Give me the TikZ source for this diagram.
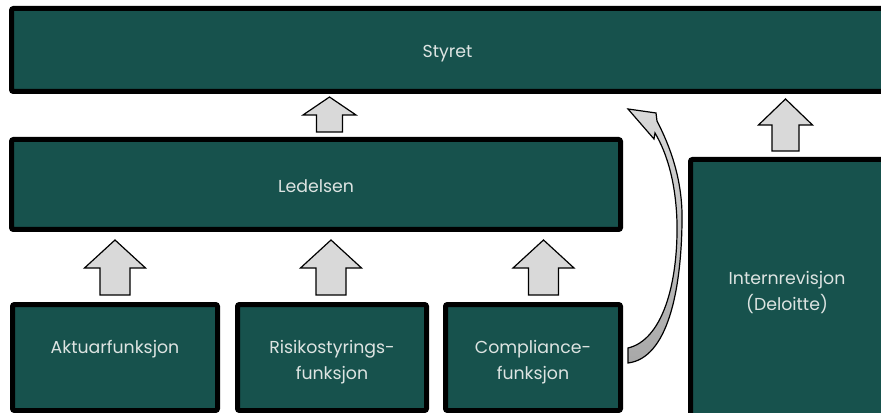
\documentclass[tikz,border=0pt]{standalone}
\usepackage{fontspec}
\setmainfont{Poppins}
\usetikzlibrary{calc}
\definecolor{boksgronn}{HTML}{17524D}
\definecolor{tekstgraa}{HTML}{DDE4E2}
\definecolor{pilgraa}{HTML}{D9D9D9}
\definecolor{pilmork}{HTML}{A8A8A8}
\def\blokkpil(#1,#2,#3,#4)(#5,#6){\draw[pil] (#1,#2) -- (#1+#5,#3) -- (#1+#6,#3) -- (#1+#6,#4) -- (#1-#6,#4) -- (#1-#6,#3) -- (#1-#5,#3) -- cycle;}
\tikzset{
  boks/.style={draw=black, line width=3.75pt, fill=boksgronn, rounded corners=1.5pt, inner sep=0pt},
  tekst/.style={text=tekstgraa, font=\fontsize{13}{19.5}\selectfont, align=center, inner sep=0pt},
  pil/.style={draw=black, line width=0.9pt, fill=pilgraa, line join=miter}
}
\begin{document}
\begin{tikzpicture}[x=0.75pt, y=-0.75pt]
			%%%%% START %%%%%
			\useasboundingbox (0,0) rectangle (881,413);
			\clip (0,0) rectangle (881,413);
			
			\node[boks, minimum width=654pt, minimum height=62.25pt] (styret) at (447.5, 50) {};
			\node[tekst, yshift=-2.75pt] (styrettekst) at (styret.center) {Styret};
			
			\node[boks, minimum width=456.75pt, minimum height=67.5pt] (ledelsen) at (316, 184.5) {};
			\node[tekst, yshift=-1.5pt] (ledelsentekst) at (ledelsen.center) {Ledelsen};
			
			\node[boks, minimum width=153.75pt, minimum height=79.5pt] (aktuar) at (115, 357.5) {};
			\node[boks, minimum width=141.75pt, minimum height=79.5pt] (risiko) at (332, 357.5) {};
			\node[boks, minimum width=131.25pt, minimum height=79.5pt] (compliance) at (533, 357.5) {};
			\node[tekst, anchor=north] (aktuartekst) at (115, 340) {Aktuarfunksjon};
			\node[tekst, anchor=north] (risikotekst) at (332, 340) {Risikostyrings-\\funksjon};
			\node[tekst, anchor=north] (compliancetekst) at (533, 340) {Compliance-\\funksjon};
			
			\node[boks, minimum width=144.75pt, minimum height=193.5pt] (intern) at (787, 288.5) {};
			\node[tekst, yshift=-3pt] (interntekst) at (intern.center) {Internrevisjon\\(Deloitte)};
			
			\blokkpil(329.5,97,115,132)(26.5,13)
			\blokkpil(785.5,99,125,151)(27,13.5)
			\blokkpil(115,240,268,295)(30.5,15)
			\blokkpil(331,240,268,295)(30.5,15)
			\blokkpil(543.5,240,268,295)(30.5,15)
			
			\draw[pil, top color=pilgraa, bottom color=pilmork] (628,109) -- (656,113) -- (657,121)
				.. controls (673,152) and (683,185) .. (682,223)
				.. controls (681,290) and (668,358) .. (628,363) -- (628,348)
				.. controls (662,340) and (678,285) .. (677,223)
				.. controls (676,185) and (668,155) .. (655,133) -- (654,139) -- cycle;
			
			%%%%% END %%%%%
\end{tikzpicture}
\end{document}
